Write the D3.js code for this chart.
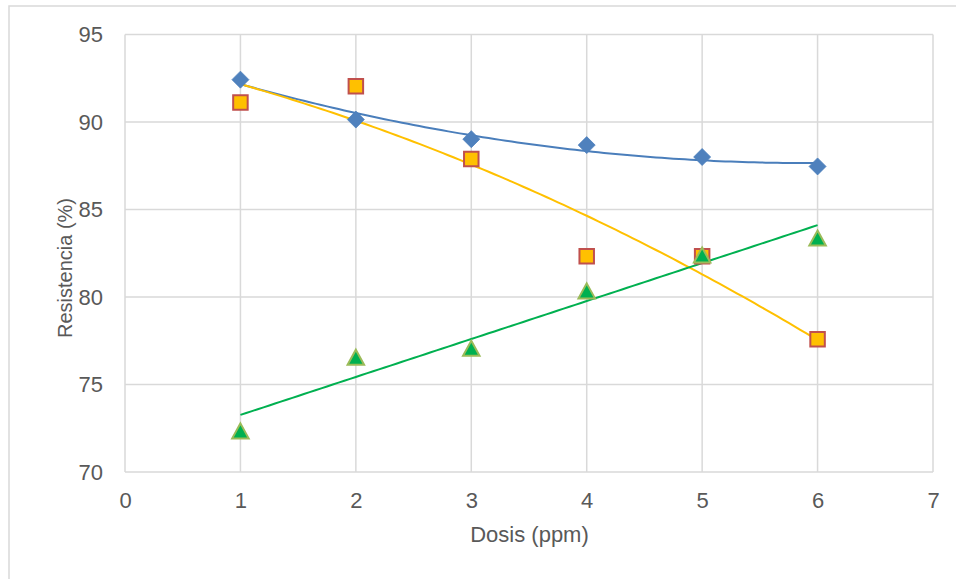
<!DOCTYPE html>
<html>
<head>
<meta charset="utf-8">
<script src="https://cdn.jsdelivr.net/npm/d3@7"></script>
<style>
  body { margin: 0; background: #fff; }
  svg { display: block; font-family: "Liberation Sans", Arial, sans-serif; }
</style>
</head>
<body>
<svg id="chart" width="956" height="579"></svg>
<script>
// doses on the x axis
const dosis = [1, 2, 3, 4, 5, 6];
// resistance values, one list per series
const serieAzul = [92.42, 90.14, 89.02, 88.68, 88.0, 87.46];
const serieNaranja = [91.12, 92.04, 87.88, 82.33, 82.33, 77.58];
const serieVerde = [72.35, 76.56, 77.07, 80.35, 82.4, 83.37];
const xTicks = [0, 1, 2, 3, 4, 5, 6, 7];
const yTicks = [70, 75, 80, 85, 90, 95];

const WIDTH = 956;
const HEIGHT = 579;
const margin = {top: 34.5, right: 23, bottom: 107, left: 125};
const plotW = WIDTH - margin.left - margin.right;
const plotH = HEIGHT - margin.top - margin.bottom;

const gridColor = "#d9d9d9";
const textColor = "#595959";

// least squares fit (like an excel trendline), degree 1 or 2
function polyFit(xs, ys, degree) {
    let n = degree + 1;
    let A = [];
    for (let i = 0; i < n; i++) {
        A.push(Array(n + 1).fill(0));
    }
    for (let k = 0; k < xs.length; k++) {
        for (let i = 0; i < n; i++) {
            for (let j = 0; j < n; j++) {
                A[i][j] += Math.pow(xs[k], i + j);
            }
            A[i][n] += ys[k] * Math.pow(xs[k], i);
        }
    }
    // gauss elimination
    for (let i = 0; i < n; i++) {
        for (let r = i + 1; r < n; r++) {
            let f = A[r][i] / A[i][i];
            for (let c = i; c <= n; c++) A[r][c] -= f * A[i][c];
        }
    }
    let coef = Array(n).fill(0);
    for (let i = n - 1; i >= 0; i--) {
        let s = A[i][n];
        for (let j = i + 1; j < n; j++) s -= A[i][j] * coef[j];
        coef[i] = s / A[i][i];
    }
    return x => coef.reduce((acc, c, i) => acc + c * Math.pow(x, i), 0);
}

const svg = d3.select("#chart");

// outer chart border (runs off the picture on the right and bottom)
svg.append("rect")
    .attr("x", 9).attr("y", 6)
    .attr("width", 980).attr("height", 600)
    .attr("fill", "#fff")
    .attr("stroke", gridColor)
    .attr("stroke-width", 1.5);

const g = svg.append("g")
    .attr("transform", "translate(" + margin.left + "," + margin.top + ")");

const x = d3.scaleLinear().domain([0, 7]).range([0, plotW]);
const y = d3.scaleLinear().domain([70, 95]).range([plotH, 0]);

// grid lines
g.append("g")
    .selectAll("line")
    .data(xTicks)
    .enter()
    .append("line")
        .attr("x1", d => x(d)).attr("x2", d => x(d))
        .attr("y1", 0).attr("y2", plotH)
        .attr("stroke", gridColor)
        .attr("stroke-width", 1.5);

g.append("g")
    .selectAll("line")
    .data(yTicks)
    .enter()
    .append("line")
        .attr("x1", 0).attr("x2", plotW)
        .attr("y1", d => y(d)).attr("y2", d => y(d))
        .attr("stroke", gridColor)
        .attr("stroke-width", 1.5);

// axes (labels only)
let xAxis = g.append("g")
    .attr("transform", "translate(0," + plotH + ")")
    .call(d3.axisBottom(x).tickValues(xTicks).tickFormat(d3.format("d")).tickSize(0).tickPadding(20));
let yAxis = g.append("g")
    .call(d3.axisLeft(y).tickValues(yTicks).tickFormat(d3.format("d")).tickSize(0).tickPadding(22));
for (let ax of [xAxis, yAxis]) {
    ax.select(".domain").remove();
    ax.selectAll("text")
        .attr("fill", textColor)
        .style("font-size", "22px")
        .style("font-family", "\"Liberation Sans\", Arial, sans-serif");
}

// axis titles
svg.append("text")
    .attr("x", margin.left + plotW / 2 + 0.5)
    .attr("y", 542)
    .attr("text-anchor", "middle")
    .attr("fill", textColor)
    .style("font-size", "22px")
    .text("Dosis (ppm)");

svg.append("text")
    .attr("transform", "translate(72,268) rotate(-90)")
    .attr("text-anchor", "middle")
    .attr("fill", textColor)
    .style("font-size", "20px")
    .text("Resistencia (%)");

// trendlines
const trends = [
    {values: serieAzul, degree: 2, color: "#4a7ebb"},
    {values: serieNaranja, degree: 2, color: "#ffc000"},
    {values: serieVerde, degree: 1, color: "#00b050"},
];
const line = d3.line().x(d => x(d[0])).y(d => y(d[1]));
for (let t of trends) {
    let f = polyFit(dosis, t.values, t.degree);
    let pts = d3.range(dosis[0], dosis[dosis.length - 1] + 0.001, 0.05).map(v => [v, f(v)]);
    g.append("path")
        .attr("d", line(pts))
        .attr("fill", "none")
        .attr("stroke", t.color)
        .attr("stroke-width", 2);
}

// markers
function drawMarkers(values, symbolType, size, fill, stroke, strokeWidth) {
    g.append("g")
        .selectAll("path")
        .data(values)
        .enter()
        .append("path")
            .attr("transform", (d, i) => "translate(" + x(dosis[i]) + "," + y(d) + ")")
            .attr("d", d3.symbol().type(symbolType).size(size))
            .attr("fill", fill)
            .attr("stroke", stroke)
            .attr("stroke-width", strokeWidth);
}

// diamond: square rotated 45deg
const diamond = {
    draw(context, size) {
        let r = Math.sqrt(size) / 2;
        context.moveTo(0, -r);
        context.lineTo(r, 0);
        context.lineTo(0, r);
        context.lineTo(-r, 0);
        context.closePath();
    }
};

// triangle centred on its bounding box
const triangle = {
    draw(context, size) {
        let h = Math.sqrt(size);
        context.moveTo(0, -h / 2);
        context.lineTo(h * 0.55, h / 2);
        context.lineTo(-h * 0.55, h / 2);
        context.closePath();
    }
};

drawMarkers(serieAzul, diamond, 17 * 17, "#4f81bd", "#4a7ebb", 0.75);
drawMarkers(serieNaranja, d3.symbolSquare, 14.5 * 14.5, "#ffc000", "#c0504d", 2);
drawMarkers(serieVerde, triangle, 15 * 15, "#00b050", "#9bbb59", 2);
</script>
</body>
</html>
